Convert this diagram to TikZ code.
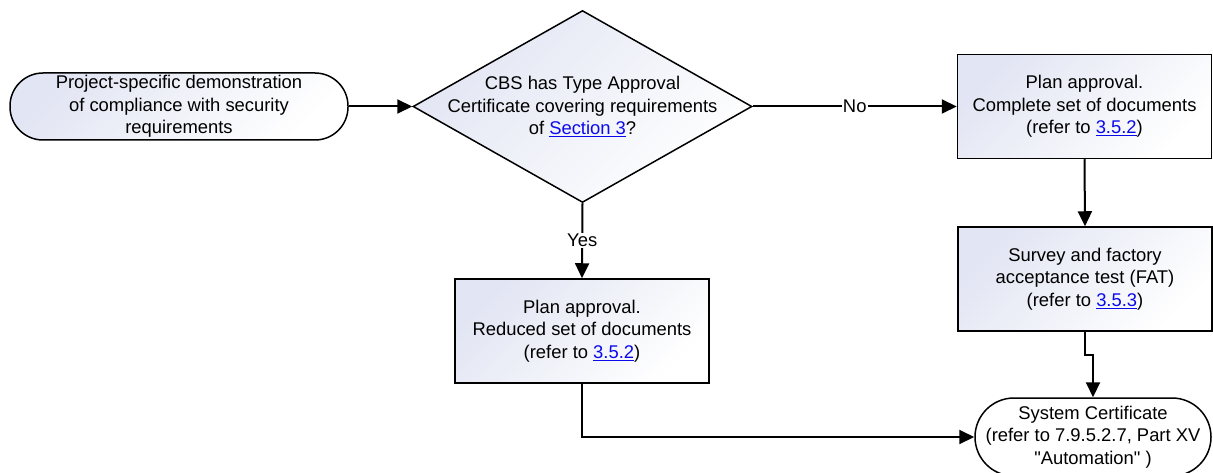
\documentclass[tikz,border=0pt]{standalone}
\usepackage{fontspec}
\setmainfont{Liberation Sans}[Ligatures=TeXOff]
\usetikzlibrary{shapes.geometric,arrows.meta}
\definecolor{fillgrad}{RGB}{226,229,243}
\definecolor{linkblue}{RGB}{10,10,235}
\newcommand{\lnk}[1]{\textcolor{linkblue}{\underline{#1}}}

\tikzset{
  shaded/.style={top color=fillgrad, bottom color=white, shading angle=45},
  procbox/.style={draw, line width=1.5pt, rectangle, shaded,
    minimum width=254pt, minimum height=104pt, align=center, inner sep=0pt},
  decision/.style={draw, line width=1.5pt, diamond, shaded,
    minimum width=339pt, minimum height=192pt, inner sep=0pt},
  flow/.style={line width=2pt, -{Triangle[length=15pt,width=14pt]}},
  edgelabel/.style={fill=white, inner sep=1pt}
}

\begin{document}
\begin{tikzpicture}[x=1pt, y=-1pt, font=\fontsize{18.4}{22.5}\selectfont]
  \clip (0,0) rectangle (1213,473);

  % start terminator
  \node (start) [draw, line width=1.5pt, shaded, rounded corners=33pt,
    minimum width=338pt, minimum height=67pt, align=center, inner sep=0pt]
    at (179,106.5)
    {Project-specific demonstration\\of compliance with security\\requirements};

  % decision
  \node (dec) [decision] at (582.5,106.5) {};
  \node (dectext) [align=center, inner sep=0pt] at (dec.center)
    {CBS has Type Approval\\Certificate covering requirements\\of \lnk{Section 3}?};

  % process steps
  \node (complete) [procbox] at (1084.5,106.5)
    {Plan approval.\\Complete set of documents\\(refer to \lnk{3.5.2})};
  \node (fat) [procbox] at (1085,279)
    {Survey and factory\\acceptance test (FAT)\\(refer to \lnk{3.5.3})};
  \node (reduced) [procbox] at (582,331)
    {Plan approval.\\Reduced set of documents\\(refer to \lnk{3.5.2})};

  % end terminator
  \node (cert) [draw, line width=1.5pt, fill=white, rounded corners=39pt,
    minimum width=236pt, minimum height=78pt, align=center, inner sep=0pt]
    at (1093,437)
    {System Certificate\\(refer to 7.9.5.2.7, Part XV\\"Automation" )};

  % connectors
  \draw[flow] (start.east) -- (dec.west);
  \draw[flow] (dec.east) -- node[edgelabel, pos=0.5] {No} (complete.west);
  \draw[flow] (dec.south) -- node[edgelabel, pos=0.5] {Yes} (reduced.north);
  \draw[flow] (complete.south) -- (fat.north);
  \draw[flow] (fat.south) -- ++(0,23) -| (cert.north);
  \draw[flow] (reduced.south) |- (cert.west);
\end{tikzpicture}
\end{document}
